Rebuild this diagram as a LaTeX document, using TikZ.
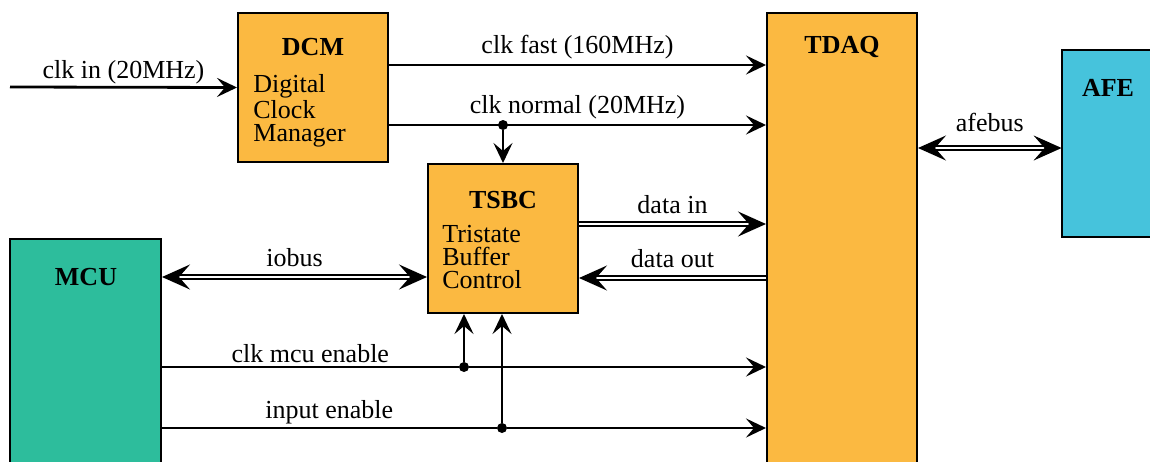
\documentclass[tikz,border=0pt]{standalone}
\usepackage{fontspec}
\setmainfont{Liberation Serif}
\usetikzlibrary{arrows.meta, calc, positioning}
\definecolor{blk-orange}{HTML}{FBB941}
\definecolor{blk-green}{HTML}{2DBD9C}
\definecolor{blk-cyan}{HTML}{46C3DC}

\begin{document}
\begin{tikzpicture}[x=0.5pt, y=-0.5pt, line join=miter,
    font=\fontsize{13}{11.5}\selectfont,
    blok/.style={draw, line width=1pt, inner sep=0pt, minimum width=75pt},
    titel/.style={inner sep=0pt, font=\fontsize{13}{11}\selectfont\bfseries},
    tekst/.style={anchor=north west, align=left, inner sep=0pt},
    lbl/.style={midway, above, inner sep=2.5pt},
    sig/.style={line width=1.4pt, -{Stealth[length=10pt, width=9.5pt, inset=4pt]}},
    bus/.style={double, line width=1pt, double distance=1.3pt},
    imp/.tip={Stealth[length=14pt, width=12.5pt, inset=5.5pt]},
    dot/.style={circle, fill, inner sep=0pt, minimum size=5pt}]
  \useasboundingbox (0,0) rectangle (1150,461);
  \clip (0,0) rectangle (1150,461);
  % blokke
  \node[blok, fill=blk-orange, minimum height=74.5pt] (dcm) at (313,87.5) {};
  \node[blok, fill=blk-orange, minimum height=74.5pt] (tsbc) at (503,238.5) {};
  \node[blok, fill=blk-orange, minimum height=233.5pt] (tdaq) at (842,246.5) {};
  \node[fill=blk-cyan, inner sep=0pt, minimum height=93.5pt, minimum width=110pt] (afe) at (1172,143.5) {};
  \draw[line width=1pt] (afe.north east) -- (afe.north west) -- (afe.south west) -- (afe.south east);
  \node[blok, fill=blk-green, minimum height=120.5pt, minimum width=75.5pt] (mcu) at (85.5,359.5) {};
  % tekster
  \node[titel] (dcmT) at (313,47) {DCM};
  \node[tekst] (dcmB) at (253,74) {Digital\\Clock\\Manager};
  \node[titel] (tsbcT) at (503,200) {TSBC};
  \node[tekst] (tsbcB) at (442,225) {Tristate\\Buffer\\Control};
  \node[titel] (tdaqT) at (842,47) {TDAQ};
  \node[titel] (afeT) at (1108,88) {AFE};
  \node[titel] (mcuT) at (86,277) {MCU};
  % ur-signaler
  \coordinate (clkin) at (10,87);
  \draw[sig] (clkin) -- (dcm.west) node[lbl, inner sep=1pt] (lclkin) {clk in (20MHz)};
  \draw[sig] ([yshift=11.25pt]dcm.east) -- ([yshift=11.25pt]dcm.east -| tdaq.west)
    node[lbl] (lfast) {clk fast (160MHz)};
  \draw[sig] ([yshift=-18.75pt]dcm.east) -- ([yshift=-18.75pt]dcm.east -| tdaq.west)
    node[lbl] (lnorm) {clk normal (20MHz)};
  \node[dot] (d1) at ([yshift=-18.75pt]dcm.east -| tsbc.north) {};
  \draw[sig] (d1) -- (tsbc.north);
  % busser
  \draw[bus, imp-imp] ([yshift=-2.25pt]tdaq.east |- afe.west) -- ([yshift=-2.25pt]afe.west)
    node[lbl, inner sep=7.5pt] (lafe) {afebus};
  \draw[bus, imp-imp] (mcu.east |- 0,277) -- (tsbc.west |- 0,277)
    node[lbl, inner sep=4.5pt] (lio) {iobus};
  \draw[bus, -imp] ([yshift=7.25pt]tsbc.east) -- ([yshift=7.25pt]tsbc.east -| tdaq.west)
    node[lbl, inner sep=4.5pt] (ldin) {data in};
  \draw[bus, -imp] ([yshift=-19.75pt]tsbc.east -| tdaq.west) -- ([yshift=-19.75pt]tsbc.east)
    node[lbl, inner sep=4.5pt] (ldout) {data out};
  % enable-signaler
  \node[dot] (d2) at (464,367) {};
  \node[dot] (d3) at (502,428) {};
  \draw[line width=1.4pt] (mcu.east |- d2) -- (d2) node[lbl, inner sep=1.5pt] (lmcu) {clk mcu enable};
  \draw[sig] (d2) -- (d2 -| tdaq.west);
  \draw[sig] (d2) -- (d2 |- tsbc.south);
  \draw[line width=1.4pt] (mcu.east |- d3) -- (d3) node[lbl, inner sep=1.5pt] (linp) {input enable};
  \draw[sig] (d3) -- (d3 -| tdaq.west);
  \draw[sig] (d3) -- (d3 |- tsbc.south);
\end{tikzpicture}
\end{document}
